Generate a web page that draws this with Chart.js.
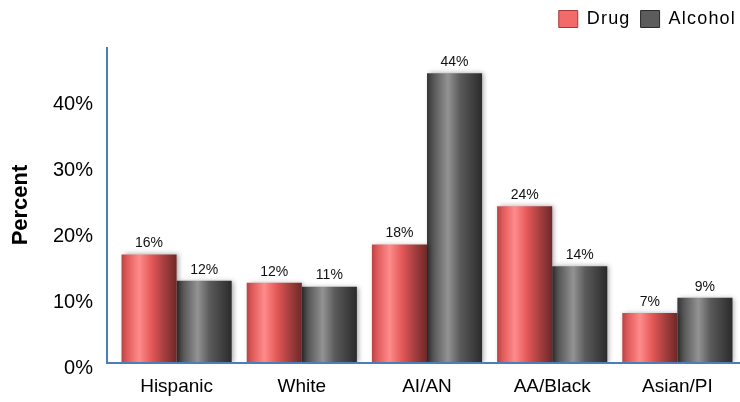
<!DOCTYPE html>
<html>
<head>
<meta charset="utf-8">
<script src="https://cdn.jsdelivr.net/npm/chart.js@4.4.1/dist/chart.umd.min.js"></script>
<style>
    html, body { margin: 0; padding: 0; background: #ffffff; }
</style>
</head>
<body>
<canvas id="chart" width="740" height="402"></canvas>
<script>
var categories = ['Hispanic', 'White', 'AI/AN', 'AA/Black', 'Asian/PI'];
var drugValues = [16.5, 12.2, 18.0, 23.8, 7.6];
var alcoholValues = [12.5, 11.6, 44.0, 14.7, 9.9];
var drugLabels = ['16%', '12%', '18%', '24%', '7%'];
var alcoholLabels = ['12%', '11%', '44%', '14%', '9%'];
var yTickValues = [0, 10, 20, 30, 40];

var FONT = '"Liberation Sans", Arial, sans-serif';
var AXIS_BLUE = '#4a7ebb';

// Colores del degradado "cilindro" de cada serie
var redStops = [[0, '#b84444'], [0.1, '#e05a5a'], [0.32, '#ff8b8b'], [0.55, '#e35757'], [0.78, '#a43e3e'], [1, '#6e2828']];
var greyStops = [[0, '#353535'], [0.12, '#575757'], [0.38, '#939393'], [0.6, '#5a5a5a'], [1, '#2b2b2b']];

function barGradient(ctx, el, stops) {
    var half = el.width / 2;
    var g = ctx.createLinearGradient(el.x - half, 0, el.x + half, 0);
    stops.forEach(function(s) { g.addColorStop(s[0], s[1]); });
    return g;
}

// Leyenda: altura fija, texto algo espaciado y pegada al borde derecho
var legendSpace = {
    id: 'legendSpace',
    beforeInit: function(chart) {
        var legend = chart.legend;
        var fit = legend.fit;
        var draw = legend.draw;
        legend.fit = function() {
            this.ctx.letterSpacing = '1.2px';
            fit.call(this);
            this.ctx.letterSpacing = '0px';
            this.height = 47;
        };
        legend.draw = function() {
            this.ctx.save();
            this.ctx.translate(6, 0);
            this.ctx.letterSpacing = '1.2px';
            draw.call(this);
            this.ctx.letterSpacing = '0px';
            this.ctx.restore();
        };
    }
};

var barStyle = {
    id: 'barStyle',
    beforeDatasetsDraw: function(chart) {
        var ctx = chart.ctx;
        chart.data.datasets.forEach(function(ds, i) {
            var stops = i === 0 ? redStops : greyStops;
            chart.getDatasetMeta(i).data.forEach(function(el) {
                el.options.backgroundColor = barGradient(ctx, el, stops);
            });
        });
        ctx.save();
        ctx.shadowColor = 'rgba(0, 0, 0, 0.35)';
        ctx.shadowBlur = 5;
        ctx.shadowOffsetX = 2;
        ctx.shadowOffsetY = 0;
    },
    afterDatasetsDraw: function(chart) {
        var ctx = chart.ctx;
        ctx.restore();

        // Ejes azules
        var area = chart.chartArea;
        var axisX = area.left - 7;
        ctx.save();
        ctx.strokeStyle = AXIS_BLUE;
        ctx.lineWidth = 2;
        ctx.beginPath();
        ctx.moveTo(axisX, area.top);
        ctx.lineTo(axisX, area.bottom);
        ctx.lineTo(area.right, area.bottom);
        ctx.stroke();
        ctx.restore();

        // Etiquetas de valor sobre cada barra
        var texts = [drugLabels, alcoholLabels];
        ctx.save();
        ctx.font = '14px ' + FONT;
        ctx.fillStyle = '#111111';
        ctx.textAlign = 'center';
        ctx.textBaseline = 'middle';
        chart.data.datasets.forEach(function(ds, i) {
            chart.getDatasetMeta(i).data.forEach(function(el, j) {
                ctx.fillText(texts[i][j], el.x, el.y - 11);
            });
        });
        ctx.restore();
    }
};

new Chart(document.getElementById('chart'), {
    type: 'bar',
    data: {
        labels: categories,
        datasets: [
            {
                label: 'Drug',
                data: drugValues,
                backgroundColor: function() { return '#ef5f5f'; },
                barPercentage: 1,
                categoryPercentage: 0.88,
            },
            {
                label: 'Alcohol',
                data: alcoholValues,
                backgroundColor: function() { return '#555555'; },
                barPercentage: 1,
                categoryPercentage: 0.88,
            },
        ],
    },
    options: {
        responsive: false,
        animation: false,
        layout: { padding: 0 },
        plugins: {
            legend: {
                position: 'top',
                align: 'end',
                labels: {
                    boxWidth: 19,
                    boxHeight: 17,
                    padding: 10,
                    color: '#000000',
                    font: { family: FONT, size: 18 },
                    generateLabels: function(chart) {
                        return [
                            { text: 'Drug', fillStyle: '#f26a6a', strokeStyle: '#a33a3a', lineWidth: 1, datasetIndex: 0 },
                            { text: 'Alcohol', fillStyle: '#5c5c5c', strokeStyle: '#2a2a2a', lineWidth: 1, datasetIndex: 1 },
                        ];
                    }
                }
            },
            tooltip: { enabled: false },
        },
        scales: {
            x: {
                grid: { display: false, drawTicks: false },
                border: { display: false },
                ticks: {
                    color: '#000000',
                    padding: 12,
                    font: { family: FONT, size: 19 },
                },
                afterFit: function(scale) { scale.height = 39; },
            },
            y: {
                min: 0,
                max: 48,
                grid: { display: false, drawTicks: false },
                border: { display: false },
                afterBuildTicks: function(scale) {
                    scale.ticks = yTickValues.map(function(v) { return { value: v }; });
                },
                ticks: {
                    color: '#000000',
                    padding: 21,
                    labelOffset: 5,
                    font: { family: FONT, size: 20 },
                    callback: function(v) { return v + '%'; },
                },
                title: {
                    display: true,
                    text: 'Percent',
                    color: '#000000',
                    padding: { top: 8, bottom: 0 },
                    font: { family: FONT, size: 22, weight: 'bold' },
                },
                afterFit: function(scale) { scale.width = 114; },
            },
        },
    },
    plugins: [legendSpace, barStyle],
});
</script>
</body>
</html>
